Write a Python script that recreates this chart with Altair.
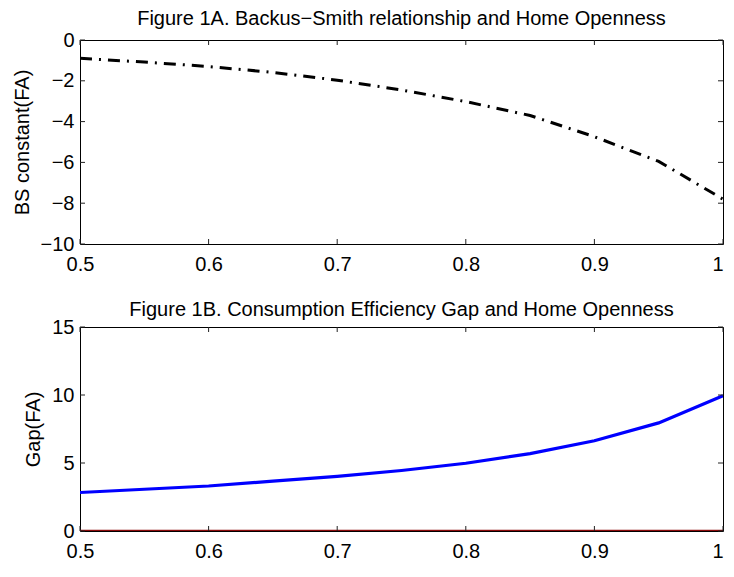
import altair as alt
import pandas as pd

# ---- data ----
openness = [0.50, 0.55, 0.60, 0.65, 0.70, 0.75, 0.80, 0.85, 0.90, 0.95, 1.00]
bs_constant = [-0.90, -1.08, -1.30, -1.59, -1.97, -2.45, -3.02, -3.70, -4.74, -5.95, -7.80]
gap = [2.83, 3.07, 3.31, 3.67, 4.02, 4.45, 4.98, 5.69, 6.64, 7.95, 9.95]
zero_line = [0.0] * len(openness)

x_ticks = [0.5, 0.6, 0.7, 0.8, 0.9, 1.0]
y_ticks_a = [-10, -8, -6, -4, -2, 0]
y_ticks_b = [0, 5, 10, 15]

title_a = "Figure 1A. Backus\u2212Smith relationship and Home Openness"
title_b = "Figure 1B. Consumption Efficiency Gap and Home Openness"

W, H = 643, 204
FONT = "Liberation Sans"
FS = 20
TICK = 5

df_a = pd.DataFrame({"x": openness, "y": bs_constant})
df_b = pd.DataFrame({"x": openness, "y": gap, "z": zero_line})
df_xt = pd.DataFrame({"x": x_ticks})

# last x label sits flush with the right frame so the page does not overflow
x_label_align = {"condition": {"test": "datum.value >= 1", "value": "right"}, "value": "center"}


def panel(title, ylabel, ydomain, yticks, lines, title_offset):
    xs = alt.Scale(domain=[0.5, 1.0], nice=False, zero=False)
    ys = alt.Scale(domain=ydomain, nice=False, zero=False)
    xaxis = alt.Axis(values=x_ticks, format="~g", ticks=False, domain=False, grid=False,
                     labelFont=FONT, labelFontSize=FS, labelColor="black", labelPadding=10,
                     labelAlign=x_label_align,
                     title=None, labelFlush=False, labelOverlap=False)
    yaxis = alt.Axis(values=yticks, ticks=False, domain=False, grid=False,
                     labelFont=FONT, labelFontSize=FS, labelColor="black", labelPadding=6,
                     title=ylabel, titleFont=FONT, titleFontSize=FS, titleFontWeight="normal",
                     titleColor="black", titlePadding=8, labelFlush=False, labelOverlap=False)
    layers = []
    for df, field, color, width, dash in lines:
        enc = dict(
            x=alt.X("x:Q", scale=xs, axis=xaxis),
            y=alt.Y(f"{field}:Q", scale=ys, axis=yaxis),
        )
        mk = dict(color=color, strokeWidth=width, clip=True)
        if dash:
            mk["strokeDash"] = dash
        layers.append(alt.Chart(df).mark_line(**mk).encode(**enc))
    df_yt = pd.DataFrame({"y": yticks})
    tc = "#222222"
    # inward ticks on all four sides
    layers.append(alt.Chart(df_xt).mark_rule(color=tc, strokeWidth=1).encode(
        x=alt.X("x:Q", scale=xs, axis=xaxis), y=alt.value(H), y2=alt.value(H - TICK)))
    layers.append(alt.Chart(df_xt).mark_rule(color=tc, strokeWidth=1).encode(
        x=alt.X("x:Q", scale=xs, axis=xaxis), y=alt.value(0), y2=alt.value(TICK)))
    layers.append(alt.Chart(df_yt).mark_rule(color=tc, strokeWidth=1).encode(
        y=alt.Y("y:Q", scale=ys, axis=yaxis), x=alt.value(0), x2=alt.value(TICK)))
    layers.append(alt.Chart(df_yt).mark_rule(color=tc, strokeWidth=1).encode(
        y=alt.Y("y:Q", scale=ys, axis=yaxis), x=alt.value(W), x2=alt.value(W - TICK)))
    return alt.layer(*layers).properties(
        width=W, height=H,
        title=alt.TitleParams(title, font=FONT, fontSize=FS, fontWeight="normal",
                              color="black", anchor="middle", frame="group",
                              offset=title_offset),
    )


top = panel(title_a, "BS constant(FA)", [-10, 0], y_ticks_a,
            [(df_a, "y", "black", 3, [12, 7, 2, 7])], 1)
bottom = panel(title_b, "Gap(FA)", [0, 15], y_ticks_b,
               [(df_b, "z", "#8B0A0A", 2.5, None), (df_b, "y", "#0000FF", 3.2, None)], -3)

chart = alt.vconcat(top, bottom, spacing=24).properties(
    padding={"left": 3, "top": 0, "right": 0, "bottom": 0},
    background="white",
).configure_view(stroke="black", strokeWidth=1).configure_concat(spacing=24)

chart.save("out.html", embed_options={"renderer": "svg", "actions": False})
